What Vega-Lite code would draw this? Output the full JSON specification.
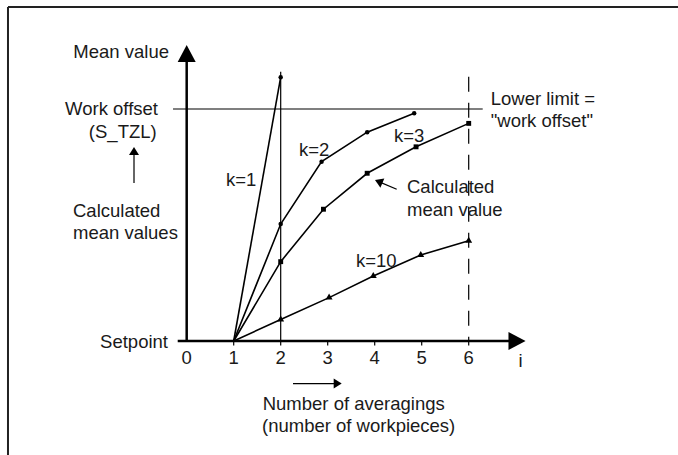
{
  "$schema": "https://vega.github.io/schema/vega-lite/v6.json",
  "width": 678,
  "height": 455,
  "autosize": "none",
  "padding": 0,
  "background": "white",
  "config": {"view": {"stroke": null}},
  "datasets": {
    "series": [
      {"k": "k=1", "i": 1, "mean": 0},
      {"k": "k=1", "i": 2, "mean": 113.7},
      {"k": "k=2", "i": 1, "mean": 0},
      {"k": "k=2", "i": 2, "mean": 50.4},
      {"k": "k=2", "i": 2.87, "mean": 77.3},
      {"k": "k=2", "i": 3.84, "mean": 90.0},
      {"k": "k=2", "i": 4.84, "mean": 98.2},
      {"k": "k=3", "i": 1, "mean": 0},
      {"k": "k=3", "i": 2, "mean": 34.2},
      {"k": "k=3", "i": 2.91, "mean": 56.8},
      {"k": "k=3", "i": 3.84, "mean": 72.3},
      {"k": "k=3", "i": 4.88, "mean": 83.7},
      {"k": "k=3", "i": 6, "mean": 93.8},
      {"k": "k=10", "i": 1, "mean": 0},
      {"k": "k=10", "i": 2, "mean": 9.3},
      {"k": "k=10", "i": 3.03, "mean": 18.7},
      {"k": "k=10", "i": 3.97, "mean": 28.0},
      {"k": "k=10", "i": 4.98, "mean": 37.1},
      {"k": "k=10", "i": 6, "mean": 43.2}
    ],
    "frame": [
      {"x": -3.802, "x2": -3.802, "y": -50, "y2": 143.97},
      {"x": -3.802, "x2": 10.6, "y": 143.97, "y2": 143.97}
    ],
    "axes": [
      {"x": 0, "x2": 0, "y": 0, "y2": 121.98},
      {"x": -0.191, "x2": 6.943, "y": 0, "y2": 0}
    ],
    "guides": [
      {"x": 1, "x2": 1, "y": 0, "y2": -1.94},
      {"x": 2, "x2": 2, "y": 0, "y2": -1.94},
      {"x": 3, "x2": 3, "y": 0, "y2": -1.94},
      {"x": 4, "x2": 4, "y": 0, "y2": -1.94},
      {"x": 5, "x2": 5, "y": 0, "y2": -1.94},
      {"x": 6, "x2": 6, "y": 0, "y2": -1.94},
      {"x": -0.291, "x2": 6.298, "y": 100, "y2": 100},
      {"x": 2, "x2": 2, "y": 0, "y2": 116.08},
      {"x": -1.121, "x2": -1.121, "y": 68.1, "y2": 81.03},
      {"x": 2.262, "x2": 3.177, "y": -18.36, "y2": -18.36},
      {"x": 4.468, "x2": 4.085, "y": 65.39, "y2": 68.71}
    ],
    "limit": [
      {"x": 6, "x2": 6, "y": 113.92, "y2": 0}
    ],
    "headsUp": [
      {"x": 0, "y": 123.92, "big": true},
      {"x": -1.121, "y": 81.9, "big": false}
    ],
    "headsRight": [
      {"x": 7.028, "y": 0, "big": true},
      {"x": 3.213, "y": -18.36, "big": false}
    ],
    "headsDiag": [
      {"x": 4.085, "y": 68.71}
    ],
    "labelsRight": [
      {"x": -0.377, "y": 121.85, "text": "Mean value"},
      {"x": -0.611, "y": 97.41, "text": "Work offset"},
      {"x": -0.638, "y": 87.37, "text": "(S_TZL)"},
      {"x": -0.398, "y": -3.02, "text": "Setpoint"}
    ],
    "labelsLeft": [
      {"x": -2.419, "y": 53.58, "text": "Calculated"},
      {"x": -2.419, "y": 44.05, "text": "mean values"},
      {"x": 0.836, "y": 66.81, "text": "k=1"},
      {"x": 2.389, "y": 79.74, "text": "k=2"},
      {"x": 4.411, "y": 85.9, "text": "k=3"},
      {"x": 3.602, "y": 32.03, "text": "k=10"},
      {"x": 6.468, "y": 101.72, "text": "Lower limit ="},
      {"x": 6.468, "y": 92.11, "text": "\"work offset\""},
      {"x": 4.687, "y": 63.66, "text": "Calculated"},
      {"x": 4.687, "y": 54.05, "text": "mean value"},
      {"x": 1.617, "y": -29.74, "text": "Number of averagings"},
      {"x": 1.602, "y": -39.35, "text": "(number of workpieces)"}
    ],
    "labelsCenter": [
      {"x": 0, "y": -9.91, "text": "0"},
      {"x": 1, "y": -9.91, "text": "1"},
      {"x": 2, "y": -9.91, "text": "2"},
      {"x": 3, "y": -9.91, "text": "3"},
      {"x": 4, "y": -9.91, "text": "4"},
      {"x": 5, "y": -9.91, "text": "5"},
      {"x": 6, "y": -9.91, "text": "6"},
      {"x": 7.106, "y": -11.08, "text": "i"}
    ]
  },
  "layer": [
    {
      "data": {"name": "frame"},
      "mark": {"type": "rule", "color": "#222", "strokeWidth": 2},
      "encoding": {
        "x": {"field": "x", "type": "quantitative", "scale": {"domain": [-3.972, 10.453], "nice": false, "zero": false}, "axis": null},
        "x2": {"field": "x2"},
        "y": {"field": "y", "type": "quantitative", "scale": {"domain": [-49.138, 146.983], "nice": false, "zero": false}, "axis": null},
        "y2": {"field": "y2"}
      }
    },
    {
      "data": {"name": "guides"},
      "mark": {"type": "rule", "color": "#000", "strokeWidth": 1.2},
      "encoding": {
        "x": {"field": "x", "type": "quantitative", "scale": {"domain": [-3.972, 10.453], "nice": false, "zero": false}, "axis": null},
        "x2": {"field": "x2"},
        "y": {"field": "y", "type": "quantitative", "scale": {"domain": [-49.138, 146.983], "nice": false, "zero": false}, "axis": null},
        "y2": {"field": "y2"}
      }
    },
    {
      "data": {"name": "limit"},
      "mark": {"type": "rule", "color": "#000", "strokeWidth": 1.2, "strokeDash": [15, 11]},
      "encoding": {
        "x": {"field": "x", "type": "quantitative", "scale": {"domain": [-3.972, 10.453], "nice": false, "zero": false}, "axis": null},
        "x2": {"field": "x2"},
        "y": {"field": "y", "type": "quantitative", "scale": {"domain": [-49.138, 146.983], "nice": false, "zero": false}, "axis": null},
        "y2": {"field": "y2"}
      }
    },
    {
      "data": {"name": "series"},
      "mark": {"type": "line", "color": "#000", "strokeWidth": 1.6},
      "encoding": {
        "x": {"field": "i", "type": "quantitative", "scale": {"domain": [-3.972, 10.453], "nice": false, "zero": false}, "axis": null},
        "y": {"field": "mean", "type": "quantitative", "scale": {"domain": [-49.138, 146.983], "nice": false, "zero": false}, "axis": null},
        "detail": {"field": "k", "type": "nominal"}
      }
    },
    {
      "data": {"name": "series"},
      "transform": [{"filter": "datum.i > 1 && (datum.k === 'k=1' || datum.k === 'k=2')"}],
      "mark": {"type": "point", "shape": "circle", "filled": true, "color": "#000", "size": 20, "opacity": 1},
      "encoding": {
        "x": {"field": "i", "type": "quantitative", "scale": {"domain": [-3.972, 10.453], "nice": false, "zero": false}, "axis": null},
        "y": {"field": "mean", "type": "quantitative", "scale": {"domain": [-49.138, 146.983], "nice": false, "zero": false}, "axis": null}
      }
    },
    {
      "data": {"name": "series"},
      "transform": [{"filter": "datum.i > 1 && datum.k === 'k=3'"}],
      "mark": {"type": "point", "shape": "square", "filled": true, "color": "#000", "size": 24, "opacity": 1},
      "encoding": {
        "x": {"field": "i", "type": "quantitative", "scale": {"domain": [-3.972, 10.453], "nice": false, "zero": false}, "axis": null},
        "y": {"field": "mean", "type": "quantitative", "scale": {"domain": [-49.138, 146.983], "nice": false, "zero": false}, "axis": null}
      }
    },
    {
      "data": {"name": "series"},
      "transform": [{"filter": "datum.i > 1 && datum.k === 'k=10'"}],
      "mark": {"type": "point", "shape": "triangle-up", "filled": true, "color": "#000", "size": 48, "opacity": 1, "yOffset": -1},
      "encoding": {
        "x": {"field": "i", "type": "quantitative", "scale": {"domain": [-3.972, 10.453], "nice": false, "zero": false}, "axis": null},
        "y": {"field": "mean", "type": "quantitative", "scale": {"domain": [-49.138, 146.983], "nice": false, "zero": false}, "axis": null}
      }
    },
    {
      "data": {"name": "axes"},
      "mark": {"type": "rule", "color": "#000", "strokeWidth": 2.5},
      "encoding": {
        "x": {"field": "x", "type": "quantitative", "scale": {"domain": [-3.972, 10.453], "nice": false, "zero": false}, "axis": null},
        "x2": {"field": "x2"},
        "y": {"field": "y", "type": "quantitative", "scale": {"domain": [-49.138, 146.983], "nice": false, "zero": false}, "axis": null},
        "y2": {"field": "y2"}
      }
    },
    {
      "data": {"name": "headsUp"},
      "transform": [{"filter": "datum.big"}],
      "mark": {"type": "point", "shape": "M-1,0.95L1,0.95L0,-0.95Z", "filled": true, "color": "#000", "size": 324, "opacity": 1},
      "encoding": {
        "x": {"field": "x", "type": "quantitative", "scale": {"domain": [-3.972, 10.453], "nice": false, "zero": false}, "axis": null},
        "y": {"field": "y", "type": "quantitative", "scale": {"domain": [-49.138, 146.983], "nice": false, "zero": false}, "axis": null}
      }
    },
    {
      "data": {"name": "headsUp"},
      "transform": [{"filter": "!datum.big"}],
      "mark": {"type": "point", "shape": "M-1,0.8L1,0.8L0,-0.8Z", "filled": true, "color": "#000", "size": 100, "opacity": 1},
      "encoding": {
        "x": {"field": "x", "type": "quantitative", "scale": {"domain": [-3.972, 10.453], "nice": false, "zero": false}, "axis": null},
        "y": {"field": "y", "type": "quantitative", "scale": {"domain": [-49.138, 146.983], "nice": false, "zero": false}, "axis": null}
      }
    },
    {
      "data": {"name": "headsRight"},
      "transform": [{"filter": "datum.big"}],
      "mark": {"type": "point", "shape": "M-0.95,-1L0.95,0L-0.95,1Z", "filled": true, "color": "#000", "size": 324, "opacity": 1},
      "encoding": {
        "x": {"field": "x", "type": "quantitative", "scale": {"domain": [-3.972, 10.453], "nice": false, "zero": false}, "axis": null},
        "y": {"field": "y", "type": "quantitative", "scale": {"domain": [-49.138, 146.983], "nice": false, "zero": false}, "axis": null}
      }
    },
    {
      "data": {"name": "headsRight"},
      "transform": [{"filter": "!datum.big"}],
      "mark": {"type": "point", "shape": "M-0.8,-1L0.8,0L-0.8,1Z", "filled": true, "color": "#000", "size": 100, "opacity": 1},
      "encoding": {
        "x": {"field": "x", "type": "quantitative", "scale": {"domain": [-3.972, 10.453], "nice": false, "zero": false}, "axis": null},
        "y": {"field": "y", "type": "quantitative", "scale": {"domain": [-49.138, 146.983], "nice": false, "zero": false}, "axis": null}
      }
    },
    {
      "data": {"name": "headsDiag"},
      "mark": {"type": "point", "shape": "M-0.8,-1L0.8,0L-0.8,1Z", "filled": true, "color": "#000", "size": 100, "opacity": 1, "angle": 203.2},
      "encoding": {
        "x": {"field": "x", "type": "quantitative", "scale": {"domain": [-3.972, 10.453], "nice": false, "zero": false}, "axis": null},
        "y": {"field": "y", "type": "quantitative", "scale": {"domain": [-49.138, 146.983], "nice": false, "zero": false}, "axis": null}
      }
    },
    {
      "data": {"name": "labelsRight"},
      "mark": {"type": "text", "align": "right", "baseline": "alphabetic", "font": "Liberation Sans", "fontSize": 18.5, "color": "#1a1a1a"},
      "encoding": {
        "x": {"field": "x", "type": "quantitative", "scale": {"domain": [-3.972, 10.453], "nice": false, "zero": false}, "axis": null},
        "y": {"field": "y", "type": "quantitative", "scale": {"domain": [-49.138, 146.983], "nice": false, "zero": false}, "axis": null},
        "text": {"field": "text", "type": "nominal"}
      }
    },
    {
      "data": {"name": "labelsLeft"},
      "mark": {"type": "text", "align": "left", "baseline": "alphabetic", "font": "Liberation Sans", "fontSize": 18.5, "color": "#1a1a1a"},
      "encoding": {
        "x": {"field": "x", "type": "quantitative", "scale": {"domain": [-3.972, 10.453], "nice": false, "zero": false}, "axis": null},
        "y": {"field": "y", "type": "quantitative", "scale": {"domain": [-49.138, 146.983], "nice": false, "zero": false}, "axis": null},
        "text": {"field": "text", "type": "nominal"}
      }
    },
    {
      "data": {"name": "labelsCenter"},
      "mark": {"type": "text", "align": "center", "baseline": "alphabetic", "font": "Liberation Sans", "fontSize": 18.5, "color": "#1a1a1a"},
      "encoding": {
        "x": {"field": "x", "type": "quantitative", "scale": {"domain": [-3.972, 10.453], "nice": false, "zero": false}, "axis": null},
        "y": {"field": "y", "type": "quantitative", "scale": {"domain": [-49.138, 146.983], "nice": false, "zero": false}, "axis": null},
        "text": {"field": "text", "type": "nominal"}
      }
    }
  ]
}
